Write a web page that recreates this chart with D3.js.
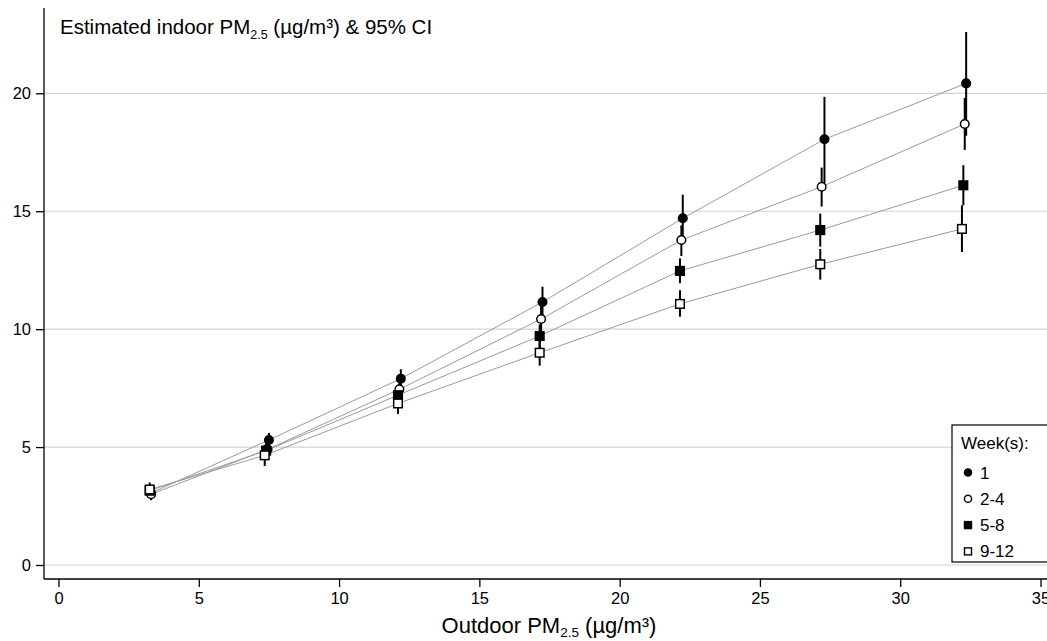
<!DOCTYPE html>
<html>
<head>
<meta charset="utf-8">
<script src="https://cdnjs.cloudflare.com/ajax/libs/d3/7.8.5/d3.min.js"></script>
<style>
  body { margin: 0; background: #fff; }
  svg { font-family: "Liberation Sans", Arial, sans-serif; }
</style>
</head>
<body>
<div id="chart"></div>
<script>
// data
var groups = ["1", "2-4", "5-8", "9-12"];
var xTicks = [0, 5, 10, 15, 20, 25, 30, 35];
var yTicks = [0, 5, 10, 15, 20];

var x_w1 = [3.3, 7.5, 12.2, 17.25, 22.25, 27.3, 32.35];
var y_w1 = [3.05, 5.3, 7.9, 11.15, 14.7, 18.05, 20.42];
var lo_w1 = [2.8, 5.0, 7.5, 10.5, 13.7, 16.2, 18.2];
var hi_w1 = [3.3, 5.6, 8.3, 11.8, 15.7, 19.85, 22.6];

var x_w24 = [3.3, 7.45, 12.15, 17.2, 22.2, 27.2, 32.3];
var y_w24 = [3.0, 4.9, 7.45, 10.43, 13.78, 16.04, 18.7];
var lo_w24 = [2.75, 4.6, 7.1, 9.8, 13.1, 15.2, 17.6];
var hi_w24 = [3.3, 5.2, 7.8, 11.05, 14.4, 16.85, 19.8];

var x_w58 = [3.25, 7.4, 12.1, 17.15, 22.15, 27.15, 32.25];
var y_w58 = [3.15, 4.85, 7.2, 9.71, 12.47, 14.2, 16.1];
var lo_w58 = [2.9, 4.5, 6.8, 9.2, 11.95, 13.5, 15.25];
var hi_w58 = [3.4, 5.2, 7.6, 10.2, 13.0, 14.9, 16.95];

var x_w912 = [3.25, 7.35, 12.1, 17.15, 22.15, 27.15, 32.2];
var y_w912 = [3.2, 4.65, 6.85, 9.0, 11.07, 12.75, 14.25];
var lo_w912 = [2.9, 4.2, 6.4, 8.45, 10.53, 12.1, 13.27];
var hi_w912 = [3.5, 5.1, 7.3, 9.55, 11.65, 13.4, 15.25];

var W = 1047, H = 641;
var svg = d3.select("#chart").append("svg").attr("width", W).attr("height", H);

var x = d3.scaleLinear().domain([0, 35]).range([58.5, 1040.5]);
var y = d3.scaleLinear().domain([0, 20]).range([565, 93.3]);

var series = [
  {name: groups[0], xs: x_w1, ys: y_w1, lo: lo_w1, hi: hi_w1, shape: "circle", fill: "#000"},
  {name: groups[1], xs: x_w24, ys: y_w24, lo: lo_w24, hi: hi_w24, shape: "circle", fill: "#fff"},
  {name: groups[2], xs: x_w58, ys: y_w58, lo: lo_w58, hi: hi_w58, shape: "square", fill: "#000"},
  {name: groups[3], xs: x_w912, ys: y_w912, lo: lo_w912, hi: hi_w912, shape: "square", fill: "#fff"}
];

// grid
svg.append("g").selectAll("line").data(yTicks).enter().append("line")
  .attr("x1", 44).attr("x2", W)
  .attr("y1", function (d) { return y(d); }).attr("y2", function (d) { return y(d); })
  .attr("stroke", "#d4d4d4").attr("stroke-width", 1.2);

// axes
var yAxis = svg.append("g").attr("transform", "translate(44,0)")
  .call(d3.axisLeft(y).tickValues(yTicks).tickSize(8).tickPadding(5));
yAxis.select(".domain").attr("d", "M0,8V579");
var xAxis = svg.append("g").attr("transform", "translate(0,579)")
  .call(d3.axisBottom(x).tickValues(xTicks).tickSize(8).tickPadding(5));
xAxis.select(".domain").attr("d", "M44,0H" + W);
svg.selectAll(".tick text").attr("font-size", 16.5).attr("fill", "#000")
  .attr("font-family", "Liberation Sans, Arial, sans-serif");
svg.selectAll(".domain, .tick line").attr("stroke", "#000").attr("stroke-width", 1.3);

// series
series.forEach(function (s) {
  var pts = s.xs.map(function (v, i) { return {x: v, y: s.ys[i], lo: s.lo[i], hi: s.hi[i]}; });
  var g = svg.append("g");
  g.selectAll("line.ci").data(pts).enter().append("line")
    .attr("x1", function (d) { return x(d.x); }).attr("x2", function (d) { return x(d.x); })
    .attr("y1", function (d) { return y(d.lo); }).attr("y2", function (d) { return y(d.hi); })
    .attr("stroke", "#000").attr("stroke-width", 2);
  g.append("path").datum(pts)
    .attr("d", d3.line().x(function (d) { return x(d.x); }).y(function (d) { return y(d.y); }))
    .attr("fill", "none").attr("stroke", "#9a9a9a").attr("stroke-width", 1);
});
series.forEach(function (s) {
  var pts = s.xs.map(function (v, i) { return {x: v, y: s.ys[i]}; });
  var g = svg.append("g");
  if (s.shape === "circle") {
    g.selectAll("circle").data(pts).enter().append("circle")
      .attr("cx", function (d) { return x(d.x); }).attr("cy", function (d) { return y(d.y); })
      .attr("r", 4.3).attr("fill", s.fill).attr("stroke", "#000").attr("stroke-width", 1.5);
  } else {
    g.selectAll("rect").data(pts).enter().append("rect")
      .attr("x", function (d) { return x(d.x) - 4.3; }).attr("y", function (d) { return y(d.y) - 4.3; })
      .attr("width", 8.6).attr("height", 8.6)
      .attr("fill", s.fill).attr("stroke", "#000").attr("stroke-width", 1.5);
  }
});

// title
var t = svg.append("text").attr("x", 60).attr("y", 34).attr("font-size", 20.5).attr("fill", "#000");
t.append("tspan").text("Estimated indoor PM");
t.append("tspan").attr("font-size", 12.5).attr("dy", 5).text("2.5");
t.append("tspan").attr("dy", -5).text(" (µg/m³) & 95% CI");

// x axis title
var xt = svg.append("text").attr("x", 549).attr("y", 633).attr("text-anchor", "middle")
  .attr("font-size", 22).attr("fill", "#000");
xt.append("tspan").text("Outdoor PM");
xt.append("tspan").attr("font-size", 13.5).attr("dy", 4).text("2.5");
xt.append("tspan").attr("dy", -4).text(" (µg/m³)");

// legend
var lg = svg.append("g").attr("transform", "translate(952,425)");
lg.append("rect").attr("width", 110).attr("height", 137)
  .attr("fill", "#fff").attr("stroke", "#000").attr("stroke-width", 1.2);
lg.append("text").attr("x", 9).attr("y", 24).attr("font-size", 17).text("Week(s):");
series.forEach(function (s, i) {
  var cy = 47.5 + i * 26.3;
  if (s.shape === "circle") {
    lg.append("circle").attr("cx", 16).attr("cy", cy).attr("r", 3.6)
      .attr("fill", s.fill).attr("stroke", "#000").attr("stroke-width", 1.4);
  } else {
    lg.append("rect").attr("x", 12.5).attr("y", cy - 3.5).attr("width", 7).attr("height", 7)
      .attr("fill", s.fill).attr("stroke", "#000").attr("stroke-width", 1.4);
  }
  lg.append("text").attr("x", 28).attr("y", cy + 6).attr("font-size", 17).text(s.name);
});
</script>
</body>
</html>
